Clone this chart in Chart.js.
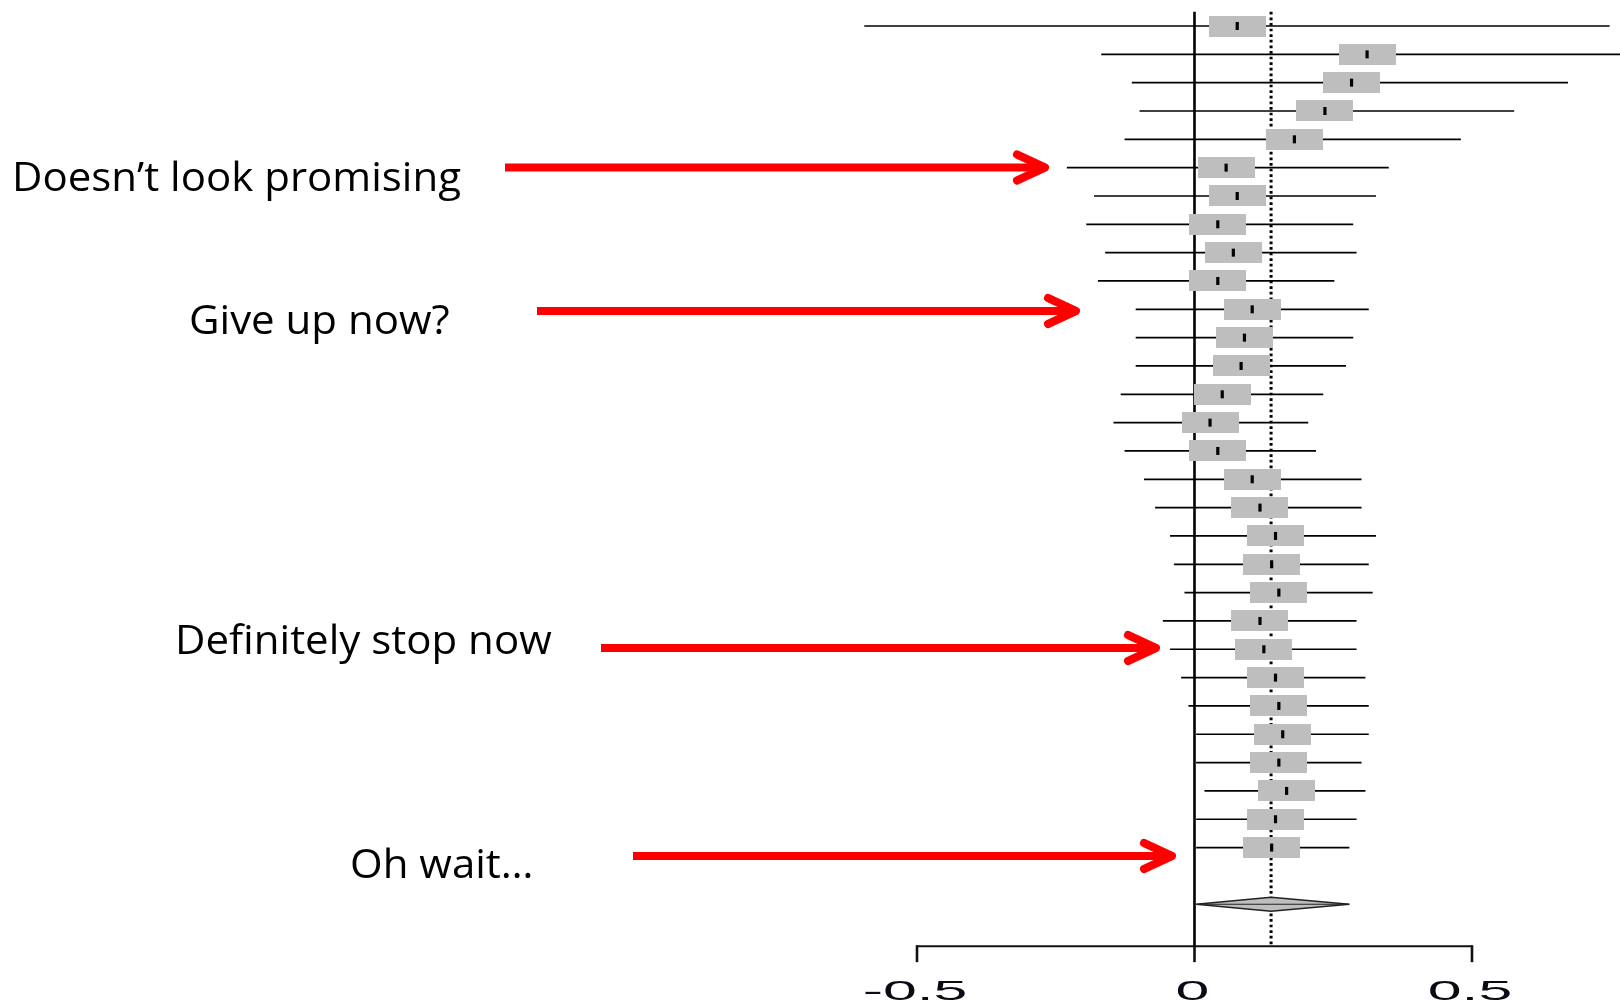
<!DOCTYPE html>
<html>
<head>
<meta charset="utf-8">
<title>Cumulative meta-analysis</title>
<script src="https://cdn.jsdelivr.net/npm/chart.js@4/dist/chart.umd.min.js"></script>
<style>
  html, body { margin: 0; padding: 0; background: #ffffff; overflow: hidden; }
  canvas { display: block; }
</style>
</head>
<body>
<canvas id="forest" width="1620" height="1003"></canvas>
<script>
// ---- data: cumulative pooled effect after each added study (top = first study) ----
const studyRows = [1, 2, 3, 4, 5, 6, 7, 8, 9, 10,
                   11, 12, 13, 14, 15, 16, 17, 18, 19, 20,
                   21, 22, 23, 24, 25, 26, 27, 28, 29, 30];
const estimates = [0.077, 0.311, 0.283, 0.235, 0.180, 0.057, 0.077, 0.042, 0.070, 0.042,
                   0.104, 0.090, 0.084, 0.050, 0.028, 0.042, 0.104, 0.118, 0.146, 0.139,
                   0.152, 0.118, 0.125, 0.146, 0.152, 0.159, 0.152, 0.166, 0.146, 0.139];
const lowerCI   = [-0.595, -0.168, -0.113, -0.099, -0.126, -0.230, -0.181, -0.195, -0.161, -0.174,
                   -0.106, -0.106, -0.106, -0.133, -0.146, -0.126, -0.091, -0.071, -0.044, -0.037,
                   -0.018, -0.057, -0.044, -0.024, -0.011, 0.003, 0.003, 0.018, 0.003, 0.003];
const upperCI   = [0.748, 0.850, 0.673, 0.576, 0.480, 0.350, 0.327, 0.286, 0.292, 0.252,
                   0.314, 0.286, 0.273, 0.232, 0.205, 0.219, 0.301, 0.301, 0.327, 0.314,
                   0.321, 0.292, 0.292, 0.308, 0.314, 0.314, 0.301, 0.308, 0.292, 0.279];

// overall pooled result (diamond + dotted line)
const pooledEstimate = 0.138;
const pooledLower = 0.003;
const pooledUpper = 0.279;
const nullEffect = 0;

// effect-size axis
const tickValues = [-0.5, 0, 0.5];
const tickLabels = ['-0.5', '0', '0.5'];

// callouts
const calloutTexts = ['Doesn\u2019t look promising', 'Give up now?', 'Definitely stop now', 'Oh wait\u2026'];

// ---- layout (pixels / row units) ----
const ROW_TOP = 0.5;      // reference lines start half a row above study 1
const POOLED_ROW = 32;    // summary diamond sits one blank row below the last study
const AXIS_ROW = 33.48;   // effect axis position in row units
const TICK_LEN = 16;
const DIAMOND_HALF = 7;
const BOX_W = 57, BOX_H = 21;
const GREY = '#bebebe';

const calloutLayout = [
  { textX: 12,  baseline: 191, from: 505, tip: 1049, y: 167.5 },
  { textX: 189, baseline: 334, from: 537, tip: 1080, y: 311 },
  { textX: 175, baseline: 654, from: 601, tip: 1160, y: 648 },
  { textX: 350, baseline: 878, from: 633, tip: 1176, y: 856 }
];

function makeBox(w, h, color) {
  const c = document.createElement('canvas');
  c.width = w; c.height = h;
  const g = c.getContext('2d');
  g.fillStyle = color;
  g.fillRect(0, 0, w, h);
  return c;
}
const boxImage = makeBox(BOX_W, BOX_H, GREY);

const rowPoints = vals => vals.map((v, i) => ({ x: v, y: studyRows[i] }));

// pooled diamond, axis and tick labels
const forestDecor = {
  id: 'forestDecor',
  afterDatasetsDraw(chart) {
    const { ctx, scales: { x, y } } = chart;
    ctx.save();

    // summary diamond
    const cy = y.getPixelForValue(POOLED_ROW);
    const xl = x.getPixelForValue(pooledLower);
    const xm = x.getPixelForValue(pooledEstimate);
    const xr = x.getPixelForValue(pooledUpper);
    ctx.beginPath();
    ctx.moveTo(xl, cy);
    ctx.lineTo(xm, cy - DIAMOND_HALF);
    ctx.lineTo(xr, cy);
    ctx.lineTo(xm, cy + DIAMOND_HALF);
    ctx.closePath();
    ctx.fillStyle = GREY;
    ctx.fill();
    ctx.lineWidth = 1.4;
    ctx.strokeStyle = '#222';
    ctx.stroke();
    ctx.beginPath();
    ctx.moveTo(xl, cy);
    ctx.lineTo(xr, cy);
    ctx.lineWidth = 1.2;
    ctx.stroke();

    // effect axis between first and last tick
    const ay = y.getPixelForValue(AXIS_ROW);
    const x0 = x.getPixelForValue(tickValues[0]);
    const x1 = x.getPixelForValue(tickValues[tickValues.length - 1]);
    ctx.strokeStyle = '#111';
    ctx.lineWidth = 2;
    ctx.beginPath();
    ctx.moveTo(x0, ay);
    ctx.lineTo(x1, ay);
    ctx.stroke();

    ctx.lineWidth = 2.6;
    ctx.fillStyle = '#0a0a14';
    ctx.textAlign = 'center';
    ctx.textBaseline = 'alphabetic';
    ctx.font = '27px "Liberation Sans", Arial, sans-serif';
    tickValues.forEach((v, i) => {
      const px = x.getPixelForValue(v);
      ctx.beginPath();
      ctx.moveTo(px, ay - 1);
      ctx.lineTo(px, ay + TICK_LEN);
      ctx.stroke();
      ctx.save();
      ctx.translate(px - 2, 1000);
      ctx.scale(2.25, 1);
      ctx.fillText(tickLabels[i], 0, 0);
      ctx.restore();
    });
    ctx.restore();
  },
  afterDraw(chart) {
    const { ctx } = chart;
    ctx.save();
    calloutLayout.forEach((c, i) => {
      ctx.fillStyle = '#000';
      ctx.font = '40px "Open Sans", sans-serif';
      ctx.textAlign = 'left';
      ctx.textBaseline = 'alphabetic';
      ctx.save();
      ctx.translate(c.textX, c.baseline);
      ctx.scale(1.05, 1);
      ctx.fillText(calloutTexts[i], 0, 0);
      ctx.restore();

      const tipX = c.tip - 4;
      ctx.strokeStyle = '#ff0000';
      ctx.lineWidth = 8;
      ctx.lineCap = 'butt';
      ctx.beginPath();
      ctx.moveTo(c.from, c.y);
      ctx.lineTo(tipX - 2, c.y);
      ctx.stroke();
      ctx.lineCap = 'round';
      ctx.lineJoin = 'round';
      ctx.beginPath();
      ctx.moveTo(tipX - 28, c.y - 13);
      ctx.lineTo(tipX, c.y);
      ctx.lineTo(tipX - 28, c.y + 13);
      ctx.stroke();
    });
    ctx.restore();
  }
};

new Chart(document.getElementById('forest'), {
  type: 'scatter',
  data: {
    datasets: [
      {
        label: 'no effect',
        type: 'scatter',
        data: [{ x: nullEffect, y: ROW_TOP }, { x: nullEffect, y: AXIS_ROW }],
        showLine: true,
        borderColor: '#000',
        borderWidth: 2.6,
        pointRadius: 0,
        order: 6
      },
      {
        label: 'pooled estimate',
        type: 'scatter',
        data: [{ x: pooledEstimate, y: ROW_TOP }, { x: pooledEstimate, y: AXIS_ROW }],
        showLine: true,
        borderColor: '#000',
        borderWidth: 3,
        borderDash: [2.7, 2.9],
        pointRadius: 0,
        order: 5
      },
      {
        label: '95% CI',
        type: 'bar',
        indexAxis: 'y',
        data: studyRows.map((r, i) => ({ x: [lowerCI[i], upperCI[i]], y: r })),
        backgroundColor: '#000',
        borderWidth: 0,
        barThickness: 1.7,
        inflateAmount: 0,
        grouped: false,
        order: 4
      },
      {
        label: 'estimate box',
        type: 'scatter',
        data: rowPoints(estimates),
        pointStyle: boxImage,
        pointRadius: 1,
        order: 3
      },
      {
        label: 'estimate',
        type: 'scatter',
        data: rowPoints(estimates),
        pointStyle: 'line',
        pointRotation: 90,
        pointRadius: 4,
        pointBorderWidth: 3.2,
        pointBorderColor: '#000',
        order: 2
      }
    ]
  },
  options: {
    responsive: false,
    devicePixelRatio: 1,
    animation: false,
    events: [],
    layout: { padding: 0, autoPadding: false },
    plugins: {
      legend: { display: false },
      tooltip: { enabled: false },
      title: { display: false }
    },
    scales: {
      x: {
        type: 'linear',
        display: false,
        offset: false,
        beginAtZero: false,
        min: -2.1523,
        max: 0.7667
      },
      y: {
        type: 'linear',
        display: false,
        offset: false,
        reverse: true,
        min: 0.0822,
        max: 35.486
      }
    }
  },
  plugins: [forestDecor]
});
</script>
</body>
</html>
